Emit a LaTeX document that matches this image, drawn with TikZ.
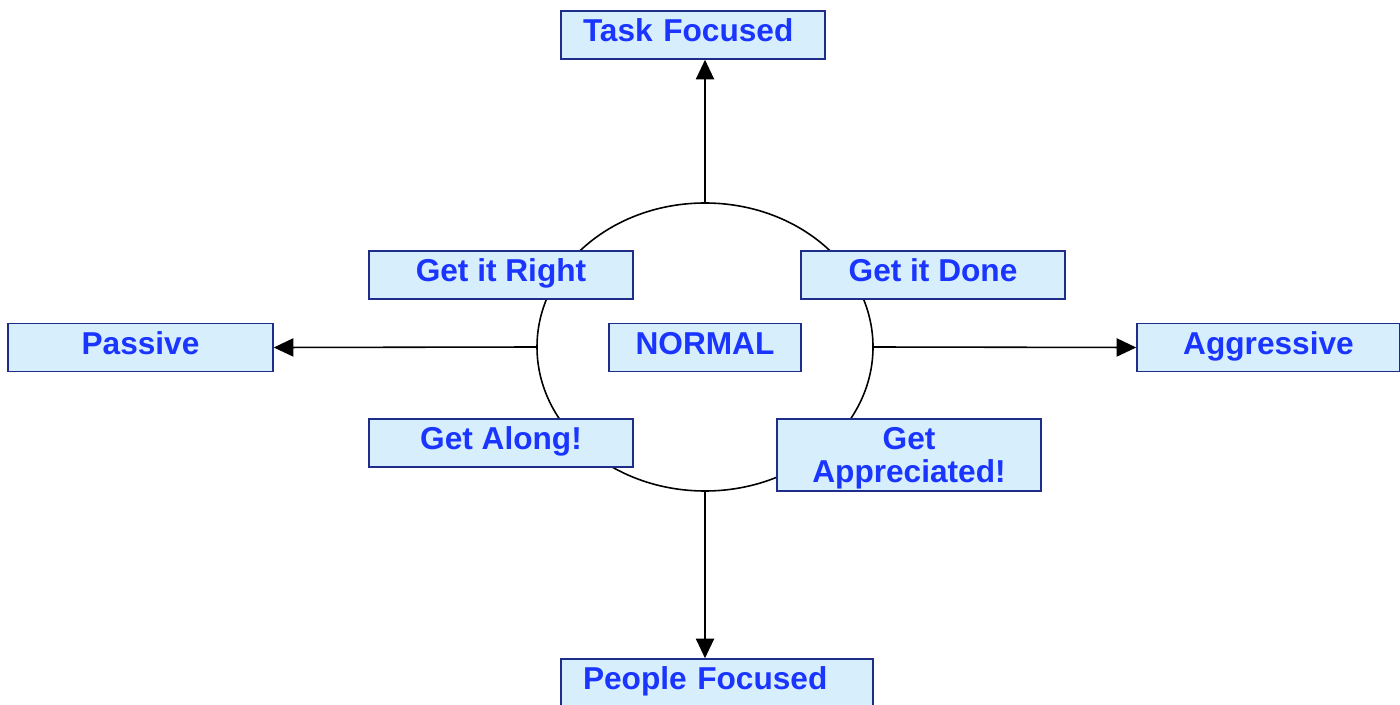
\documentclass[tikz,border=0pt]{standalone}
\usepackage{fontspec}
\setmainfont{Liberation Sans}
\usepackage{xcolor}
\definecolor{BoxFill}{HTML}{D7EEFC}
\definecolor{BoxLine}{HTML}{1F2D8A}
\definecolor{LabelBlue}{HTML}{1A35FF}
\usepackage{tikz}
\usetikzlibrary{arrows.meta, shapes.geometric}

\tikzset{
  stylebox/.style={draw=BoxLine, line width=0.45pt, fill=BoxFill, text=LabelBlue,
    font=\fontsize{9}{9.4}\selectfont\bfseries, inner sep=0pt,
    text height=6.3pt, text depth=2.5pt,
    minimum height=0.48cm, align=center},
  axisbox/.style={stylebox, align=left, inner xsep=0.22cm},
  axis/.style={line width=0.45pt, -{Triangle[length=5.6pt, width=5.2pt]}}
}

\begin{document}
\begin{tikzpicture}
  \useasboundingbox (0,0) rectangle (14,7.04);
  % the ring in the middle
  \node[draw, ellipse, line width=0.45pt, minimum width=3.36cm, minimum height=2.88cm, inner sep=0pt] (ring) at (7.05,3.57) {};

  % the four ends of the axes
  \node[axisbox, text width=2.2cm] (task) at (6.93,6.69) {Task Focused};
  \node[axisbox, text width=2.68cm] (people) at (7.17,0.21) {People Focused};
  \node[stylebox, minimum width=2.65cm] (passive) at (1.405,3.565) {Passive};
  \node[stylebox, minimum width=2.63cm] (aggressive) at (12.685,3.565) {Aggressive};

  % the styles round the ring
  \node[stylebox, minimum width=1.92cm] (normal) at (7.05,3.565) {NORMAL};
  \node[stylebox, minimum width=2.64cm] (right) at (5.01,4.29) {Get it Right};
  \node[stylebox, minimum width=2.64cm] (done) at (9.33,4.29) {Get it Done};
  \node[stylebox, minimum width=2.64cm] (along) at (5.01,2.61) {Get Along!};
  \node[stylebox, minimum width=2.64cm, minimum height=0.72cm, text height=, text depth=0pt] (appreciated) at (9.09,2.49) {Get\\Appreciated!};

  \draw[axis] (ring.north) -- (ring.north |- task.south);
  \draw[axis] (ring.south) -- (ring.south |- people.north);
  \draw[axis] (ring.west) -- (passive.east);
  \draw[axis] (ring.east) -- (aggressive.west);
\end{tikzpicture}
\end{document}
